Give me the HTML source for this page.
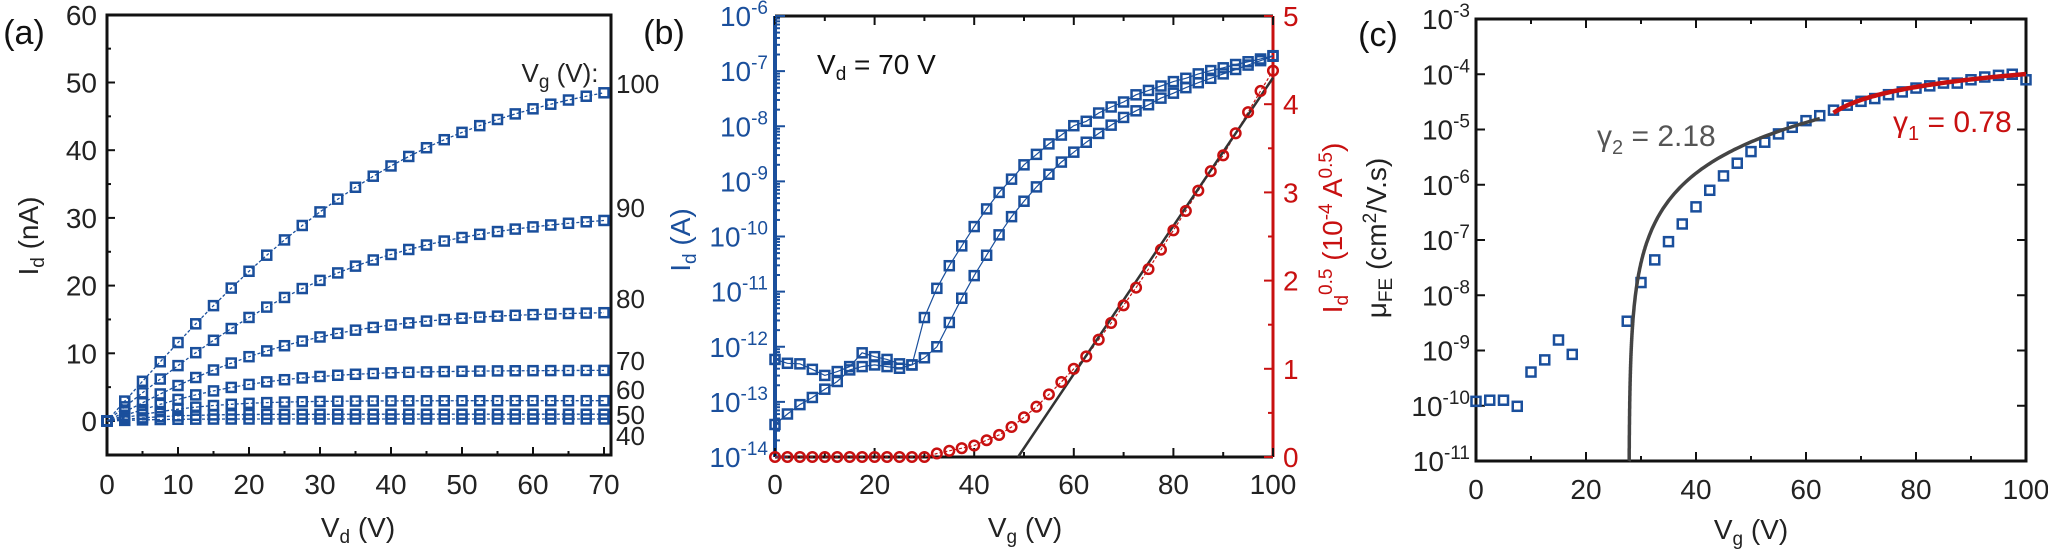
<!DOCTYPE html>
<html><head><meta charset="utf-8"><style>
html,body{margin:0;padding:0;background:#fff;}
svg{display:block;}
text{font-family:"Liberation Sans",Arial,sans-serif;}
</style></head><body>
<svg id="s" width="2048" height="550" viewBox="0 0 2048 550" xmlns="http://www.w3.org/2000/svg"></svg>
<script>
const B='#1a4f9c',R='#c81010',G='#444';
let o='';
function T(x,y,t,sz,fill,anch,extra){o+=`<text x="${x}" y="${y}" font-size="${sz}" fill="${fill||'#222'}" text-anchor="${anch||'middle'}" ${extra||''}>${t}</text>`;}
function L(x1,y1,x2,y2,c,w,extra){o+=`<line x1="${x1}" y1="${y1}" x2="${x2}" y2="${y2}" stroke="${c}" stroke-width="${w}" ${extra||''}/>`;}
function sq(x,y,c){o+=`<rect x="${x-4.5}" y="${y-4.5}" width="9" height="9" fill="none" stroke="${c}" stroke-width="2.5"/>`;}
function ci(x,y,c){o+=`<circle cx="${x}" cy="${y}" r="4.8" fill="none" stroke="${c}" stroke-width="2.5"/>`;}
function poly(pts,c,w,extra){o+=`<polyline points="${pts.map(p=>p[0].toFixed(1)+','+p[1].toFixed(1)).join(' ')}" fill="none" stroke="${c}" stroke-width="${w}" ${extra||''}/>`;}

/* ===== Panel (a) ===== */
{const x0=107,x1=611,yT=15,yB=455;
const X=v=>107+v*7.1, Y=v=>421-v*6.77;
o+=`<rect x="${x0}" y="${yT}" width="${x1-x0}" height="${yB-yT}" fill="none" stroke="#111" stroke-width="3"/>`;
for(let v=0;v<=70;v+=5){L(X(v),yB,X(v),yB-(v%10?4:8),'#111',2);}
for(let v=-5;v<=60;v+=5){L(x0,Y(v),x0+(v%10?4:8),Y(v),'#111',2);}
for(let v=0;v<=70;v+=10)T(X(v),494,v,28);
for(let v=0;v<=60;v+=10)T(97,Y(v)+10,v,28,'#222','end');
T(38,236,'I<tspan font-size="19" dy="6">d</tspan><tspan dy="-6"> (nA)</tspan>',28,'#222','middle','transform="rotate(-90 38 236)"');
T(358,537,'V<tspan font-size="19" dy="6">d</tspan><tspan dy="-6"> (V)</tspan>',28);
T(24,44,'(a)',34,'#111');
const cur=[[53,45],[31,37],[16.3,30],[7.5,22],[3,15],[1,10],[0.3,8]];
for(const [A,c] of cur){const pts=[];for(let v=0;v<=70.01;v+=2.5)pts.push([X(v),Y(A*Math.tanh(v/c))]);
poly(pts,B,1.3,'stroke-dasharray="3,2"');pts.forEach(p=>sq(p[0],p[1],B));}
T(560,82,'V<tspan font-size="19" dy="6">g</tspan><tspan dy="-6"> (V):</tspan>',26,'#222','middle');
[[100,93],[90,217],[80,308],[70,370],[60,399],[50,424],[40,445]].forEach(([t,y])=>T(616,y,t,26,'#222','start'));
}

/* ===== Panel (b) ===== */
{const x0=775,x1=1273,yT=16,yB=457;
const X=v=>x0+v*(x1-x0)/100, Yl=l=>yT+(-6-l)*(yB-yT)/8, Yr=v=>yB-v*(yB-yT)/5;
L(x0,yT,x1,yT,'#111',3);L(x0,yB,x1,yB,'#111',3);
L(x0,yT,x0,yB,B,4);L(x1,yT,x1,yB,R,3);
for(let v=0;v<=100;v+=10){L(X(v),yT,X(v),yT+(v%20?5:9),'#111',2);L(X(v),yB,X(v),yB-(v%20?5:9),'#111',2);}
for(let d=-14;d<-6;d++){for(let k=1;k<10;k++){const y=Yl(d+Math.log10(k));L(x0,y,x0+(k==1?10:5),y,B,2);}}
L(x0,Yl(-6),x0+10,Yl(-6),B,2);
for(let v=0;v<=5;v+=0.5){L(x1,Yr(v),x1-(v%1?5:9),Yr(v),R,2);}
for(let d=-14;d<=-6;d++)T(768,Yl(d)+10,`10<tspan font-size="19" dy="-12">${d}</tspan>`,28,B,'end');
for(let v=0;v<=5;v++)T(1283,Yr(v)+10,v,28,R,'start');
for(let v=0;v<=100;v+=20)T(X(v),494,v,28);
T(1025,537,'V<tspan font-size="19" dy="6">g</tspan><tspan dy="-6"> (V)</tspan>',28);
T(690,240,'I<tspan font-size="19" dy="6">d</tspan><tspan dy="-6"> (A)</tspan>',28,B,'middle','transform="rotate(-90 690 240)"');
T(1342,228,'I<tspan font-size="19" dy="6">d</tspan><tspan font-size="19" dy="-16">0.5</tspan><tspan dy="10"> (10</tspan><tspan font-size="19" dy="-10">-4</tspan><tspan dy="10"> A</tspan><tspan font-size="19" dy="-10">0.5</tspan><tspan dy="10">)</tspan>',28,R,'middle','transform="rotate(-90 1342 228)"');
T(664,44,'(b)',34,'#111');
T(817,74,'V<tspan font-size="19" dy="6">d</tspan><tspan dy="-6"> = 70 V</tspan>',28,'#111','start');
const A=[-12.23,-12.30,-12.31,-12.41,-12.52,-12.45,-12.36,-12.11,-12.18,-12.23,-12.31,-12.33,-11.47,-10.94,-10.53,-10.17,-9.82,-9.50,-9.20,-8.96,-8.70,-8.51,-8.32,-8.16,-7.99,-7.91,-7.76,-7.65,-7.56,-7.43,-7.35,-7.27,-7.19,-7.13,-7.05,-6.99,-6.94,-6.88,-6.83,-6.78,-6.72];
const Bv=[-13.41,-13.22,-13.05,-12.92,-12.77,-12.63,-12.42,-12.36,-12.33,-12.36,-12.39,-12.33,-12.2,-12.0,-11.56,-11.12,-10.71,-10.34,-9.97,-9.64,-9.36,-9.10,-8.87,-8.65,-8.47,-8.29,-8.13,-7.98,-7.84,-7.72,-7.61,-7.49,-7.40,-7.30,-7.21,-7.13,-7.05,-6.97,-6.89,-6.81,-6.73];
const Rv=[0,0,0,0,0,0,0,0,0,0,0,0,0,.04,.07,.1,.13,.19,.25,.34,.45,.57,.71,.85,1.0,1.14,1.33,1.52,1.72,1.92,2.13,2.35,2.57,2.79,3.02,3.24,3.42,3.67,3.91,4.15,4.38];
[A,Bv].forEach(arr=>{const p=arr.map((l,i)=>[X(i*2.5),Yl(l)]);poly(p,B,1.2);p.forEach(q=>sq(q[0],q[1],B));});
const pr=Rv.map((v,i)=>[X(i*2.5),Yr(v)]);poly(pr,R,1.2,'stroke-dasharray="3,2"');
L(X(48.8),Yr(0),X(100),Yr(4.3),'#333',2.5);
pr.forEach(q=>ci(q[0],q[1],R));
}

/* ===== Panel (c) ===== */
{const x0=1476,x1=2026,yT=19,yB=461;
const X=v=>x0+v*(x1-x0)/100, Y=l=>yT+(-3-l)*(yB-yT)/8;
o+=`<rect x="${x0}" y="${yT}" width="${x1-x0}" height="${yB-yT}" fill="none" stroke="#111" stroke-width="3"/>`;
for(let v=0;v<=100;v+=10){L(X(v),yB,X(v),yB-(v%20?5:9),'#111',2);L(X(v),yT,X(v),yT+(v%20?5:9),'#111',2);}
for(let d=-11;d<=-3;d++){L(x0,Y(d),x0+9,Y(d),'#111',2);L(x1,Y(d),x1-9,Y(d),'#111',2);}
for(let d=-11;d<=-3;d++)T(1470,Y(d)+10,`10<tspan font-size="19" dy="-12">${d}</tspan>`,28,'#222','end');
for(let v=0;v<=100;v+=20)T(X(v),499,v,28);
T(1751,539,'V<tspan font-size="19" dy="6">g</tspan><tspan dy="-6"> (V)</tspan>',28);
T(1386,238,'μ<tspan font-size="19" dy="6">FE</tspan><tspan dy="-6"> (cm</tspan><tspan font-size="19" dy="-10">2</tspan><tspan dy="10">/V.s)</tspan>',28,'#222','middle','transform="rotate(-90 1386 238)"');
T(1378,46,'(c)',34,'#111');
const pts=[[0,-9.92],[2.5,-9.9],[5,-9.9],[7.5,-10.01],[10,-9.39],[12.5,-9.17],[15,-8.81],[17.5,-9.07],[27.5,-8.47],[30,-7.77],[32.5,-7.36],[35,-7.03],[37.5,-6.71],[40,-6.40],[42.5,-6.10],[45,-5.84],[47.5,-5.61],[50,-5.40],[52.5,-5.23],[55,-5.08],[57.5,-4.96],[60,-4.84],[62.5,-4.75],[65,-4.65],[67.5,-4.56],[70,-4.49],[72.5,-4.44],[75,-4.37],[77.5,-4.32],[80,-4.25],[82.5,-4.21],[85,-4.16],[87.5,-4.16],[90,-4.10],[92.5,-4.05],[95,-4.02],[97.5,-4.0],[100,-4.1]];
pts.forEach(p=>sq(X(p[0]),Y(p[1]),B));
const g=[[X(27.8),yB]];
for(let v=27.8005;v<=62.6;){const l=-8.16+2.18*Math.log10(v-27.8);if(l>-11)g.push([X(v),Y(l)]);v+= (v<28.5?0.002: v<31?0.05:0.5);}
poly(g,'#444',3.5);
const r=[];for(let v=65;v<=100.01;v+=0.5)r.push([X(v),Y(-5.245+0.78*Math.log10(v-60))]);
poly(r,R,4.5);
T(1597,146,'γ<tspan font-size="20" dy="8">2</tspan><tspan dy="-8"> = 2.18</tspan>',30,'#555','start');
T(1893,132,'γ<tspan font-size="20" dy="8">1</tspan><tspan dy="-8"> = 0.78</tspan>',30,R,'start');
}
document.getElementById('s').innerHTML=o;
</script>
</body></html>
